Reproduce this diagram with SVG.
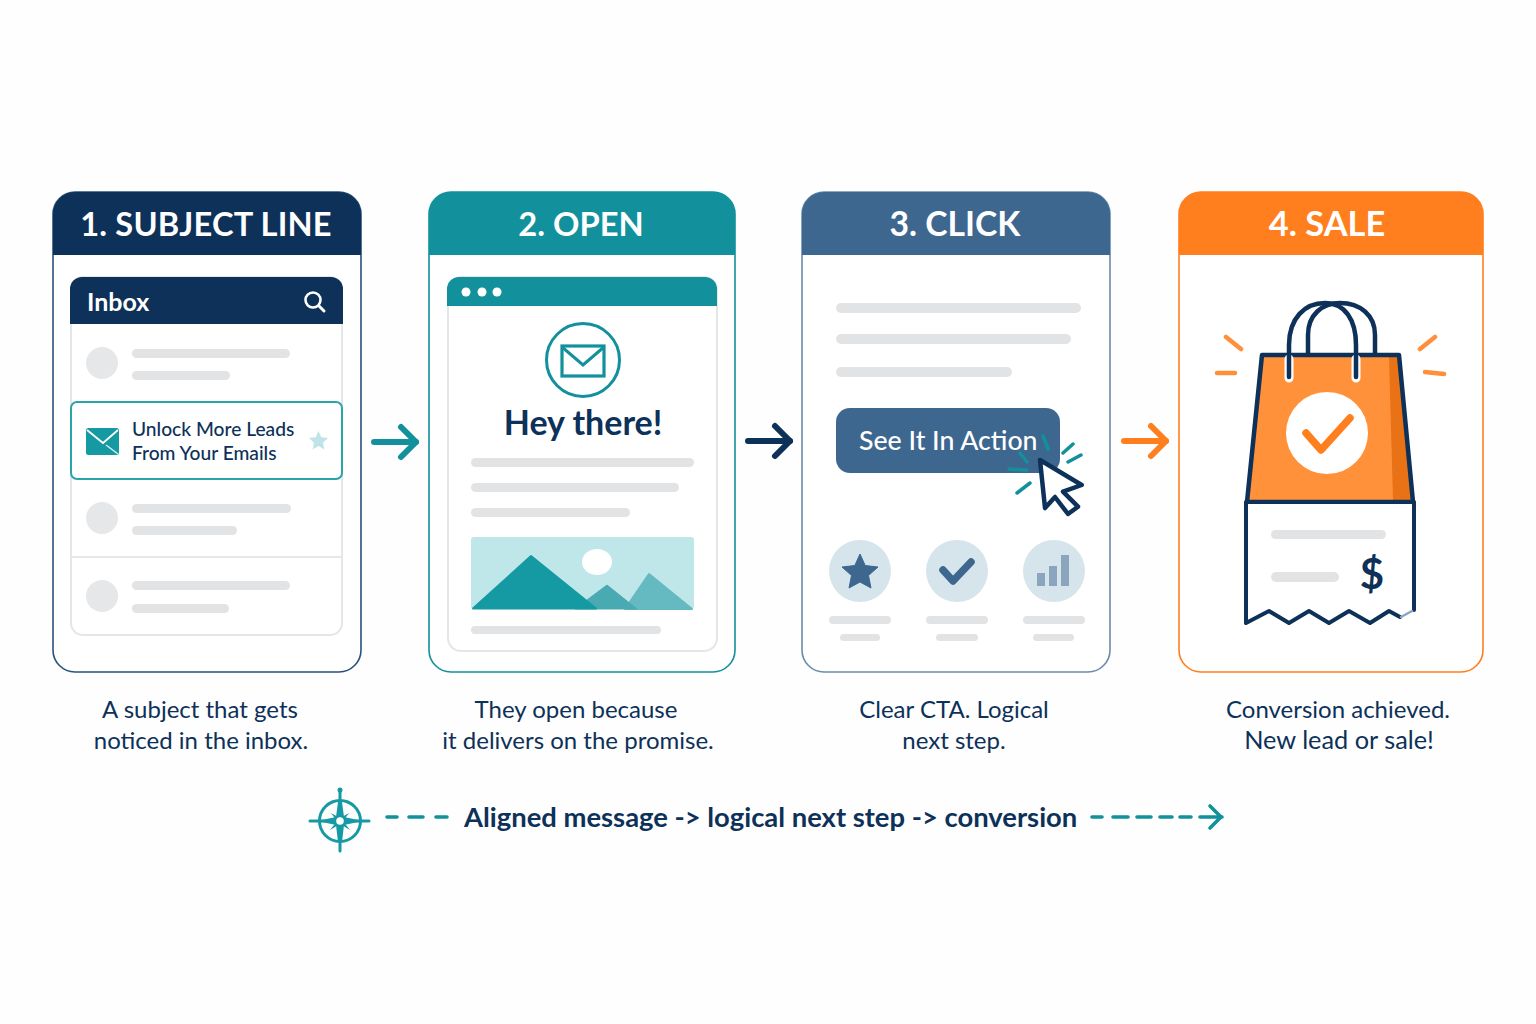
<svg xmlns="http://www.w3.org/2000/svg" width="1536" height="1024" viewBox="0 0 1536 1024">
<style>
text{font-family:"Lato","Noto Sans","Liberation Sans",sans-serif;fill:#0d3158}
.hd{font-size:32.7px;font-weight:700;fill:#fff;text-anchor:middle}
.cap{font-size:24px;text-anchor:middle}
.bar{fill:#e2e3e4}
.card{fill:#fff;stroke-width:1.6}
.dot{fill:#e6e7e8}
.ln{fill:none;stroke-linecap:round;stroke-linejoin:round}
.tk{stroke:#12919c;stroke-width:3.5;stroke-linecap:round;fill:none}
.rr{stroke:#ff8f3a;stroke-width:4.5;stroke-linecap:round;fill:none}
.av{fill:#d6e4eb}
</style>
<defs>
<marker id="hT" markerUnits="userSpaceOnUse" markerWidth="30" markerHeight="40" refX="22" refY="20" orient="auto"><path d="M7 5L22 20L7 35" fill="none" stroke="#12919c" stroke-width="6" stroke-linecap="round" stroke-linejoin="round"/></marker>
<marker id="hN" markerUnits="userSpaceOnUse" markerWidth="30" markerHeight="40" refX="22" refY="20" orient="auto"><path d="M7 5L22 20L7 35" fill="none" stroke="#0d3158" stroke-width="6" stroke-linecap="round" stroke-linejoin="round"/></marker>
<marker id="hO" markerUnits="userSpaceOnUse" markerWidth="30" markerHeight="40" refX="22" refY="20" orient="auto"><path d="M7 5L22 20L7 35" fill="none" stroke="#ff7f1e" stroke-width="6" stroke-linecap="round" stroke-linejoin="round"/></marker>
<marker id="hS" markerUnits="userSpaceOnUse" markerWidth="24" markerHeight="32" refX="18" refY="16" orient="auto"><path d="M6 5L17 16L6 27" fill="none" stroke="#12919c" stroke-width="3.6" stroke-linecap="round" stroke-linejoin="round"/></marker>
</defs>
<rect width="1536" height="1024" fill="#fefefe"/>

<g id="node-subject-line">
<rect class="card" x="53" y="192" width="308" height="480" rx="22" stroke="#2a5279"/>
<path d="M53 255V214a22 22 0 0 1 22-22H339a22 22 0 0 1 22 22V255Z" fill="#0d3158"/>
<text class="hd" x="206" y="236" style="font-size:32.6px;letter-spacing:.2px">1. SUBJECT LINE</text>
<rect x="71" y="277" width="271" height="358" rx="12" fill="#fff" stroke="#e4e6e8" stroke-width="2"/>
<path d="M70 324V289a12 12 0 0 1 12-12H331a12 12 0 0 1 12 12V324Z" fill="#0d3158"/>
<text x="87" y="311" font-size="25" font-weight="700" style="fill:#fff">Inbox</text>
<circle cx="313" cy="300" r="7.5" fill="none" stroke="#fff" stroke-width="2.6"/>
<path d="M319 306L324 311" stroke="#fff" stroke-width="3" stroke-linecap="round"/>
<circle class="dot" cx="102" cy="363" r="16"/>
<rect class="bar" x="132" y="349" width="158" height="9" rx="4.5"/>
<rect class="bar" x="132" y="371" width="98" height="9" rx="4.5"/>
<rect x="71" y="402" width="271" height="77" rx="6" fill="#fff" stroke="#2ba3ab" stroke-width="2"/>
<rect x="86" y="428" width="33" height="27" rx="2.5" fill="#159aa3"/>
<path d="M87 430L103 443L118 430" fill="none" stroke="#fff" stroke-width="1.8"/>
<path d="M106 445L118 454" stroke="#d7eef0" stroke-width="1.5"/>
<text x="132" y="436" font-size="19.2" font-weight="500">Unlock More Leads</text>
<text x="132" y="460" font-size="19.2" font-weight="500">From Your Emails</text>
<path d="M318.500 431L321.300 437.200L328 438L323 442.700L324.400 449.500L318.500 446L312.600 449.500L314 442.700L309 438L315.700 437.200Z" fill="#bfe3e7"/>
<circle class="dot" cx="102" cy="518" r="16"/>
<rect class="bar" x="132" y="504" width="159" height="9" rx="4.5"/>
<rect class="bar" x="132" y="526" width="105" height="9" rx="4.500"/>
<path d="M71 557H342" stroke="#e6e7e8" stroke-width="2"/>
<circle class="dot" cx="102" cy="596" r="16"/>
<rect class="bar" x="132" y="581" width="158" height="9" rx="4.5"/>
<rect class="bar" x="132" y="604" width="97" height="9" rx="4.5"/>
<text class="cap" x="200" y="717.500">A subject that gets</text>
<text class="cap" x="201" y="748.500">noticed in the inbox.</text>
</g>

<g id="node-open">
<rect class="card" x="429" y="192" width="306" height="480" rx="22" stroke="#12919c"/>
<path d="M429 255V214a22 22 0 0 1 22-22H713a22 22 0 0 1 22 22V255Z" fill="#12919c"/>
<text class="hd" x="581" y="236">2. OPEN</text>
<rect x="448" y="277" width="269" height="374" rx="13" fill="#fff" stroke="#e4e6e8" stroke-width="2"/>
<path d="M447 306V289a12 12 0 0 1 12-12H705a12 12 0 0 1 12 12V306Z" fill="#12919c"/>
<circle cx="466" cy="292" r="4.500" fill="#fff"/><circle cx="482" cy="292" r="4.500" fill="#fff"/><circle cx="497" cy="292" r="4.500" fill="#fff"/>
<circle cx="583" cy="360" r="36.500" fill="none" stroke="#12919c" stroke-width="3"/>
<rect x="562" y="346" width="42" height="30" fill="none" stroke="#12919c" stroke-width="3.200"/>
<path d="M562 347L583 365L604 347" fill="none" stroke="#12919c" stroke-width="3"/>
<text x="583" y="435" font-size="34" font-weight="700" text-anchor="middle">Hey there!</text>
<rect class="bar" x="471" y="458" width="223" height="9" rx="4.500"/>
<rect class="bar" x="471" y="483" width="208" height="9" rx="4.500"/>
<rect class="bar" x="471" y="508" width="159" height="9" rx="4.500"/>
<rect x="471" y="537" width="223" height="72" rx="3" fill="#bfe6e9"/>
<ellipse cx="597" cy="562" rx="15" ry="13" fill="#fff"/>
<path d="M625 609L649 574L692 609Z" fill="#65bac2" stroke="#65bac2" stroke-linejoin="round" stroke-width="2"/>
<path d="M575 609L607 585L637 609Z" fill="#49aab2" stroke="#49aab2" stroke-linejoin="round" stroke-width="1"/>
<path d="M473 608.500L531 556L596 608.500Z" fill="#159aa3" stroke="#159aa3" stroke-linejoin="round" stroke-width="2"/>
<rect class="bar" x="471" y="626" width="190" height="8" rx="4"/>
<text class="cap" x="576" y="717.500">They open because</text>
<text class="cap" x="578" y="748.500">it delivers on the promise.</text>
</g>

<g id="node-click">
<rect class="card" x="802" y="192" width="308" height="480" rx="22" stroke="#6a8cab"/>
<path d="M802 255V214a22 22 0 0 1 22-22H1088a22 22 0 0 1 22 22V255Z" fill="#3e678f"/>
<text class="hd" x="955" y="236" style="font-size:33.7px">3. CLICK</text>
<rect class="bar" x="836" y="303" width="245" height="10" rx="5"/>
<rect class="bar" x="836" y="334" width="235" height="10" rx="5"/>
<rect class="bar" x="836" y="367" width="176" height="10" rx="5"/>
<rect x="836" y="408" width="224" height="65" rx="14" fill="#3e678f"/>
<text x="859" y="450" font-size="26.700" font-weight="500" style="fill:#fff">See It In Action</text>
<path class="tk" d="M1063 453L1073 444M1068 462L1081 455M1017 493L1030 483M1043 436L1048 449M1020 453L1027 462M1009 469L1027 470"/>
<path d="M1040 460L1081.700 485L1063 491.700L1078 506.700L1068 514L1055 497L1045 508Z" fill="#fff" stroke="#0d3158" stroke-width="4.500" stroke-linejoin="round"/>
<circle class="av" cx="860" cy="571" r="31"/>
<path d="M860 554L865.200 565.500L878 567L868.500 575.500L871 588L860 582L849 588L851.500 575.500L842 567L854.800 565.500Z" fill="#3e678f" stroke="#3e678f" stroke-width="1" stroke-linejoin="round"/>
<circle class="av" cx="957" cy="571" r="31"/>
<path class="ln" d="M943 570L953 581L971 562" stroke="#3e678f" stroke-width="7.500"/>
<circle class="av" cx="1054" cy="571" r="31"/>
<rect x="1037" y="573" width="8" height="13" fill="#8aa5bd"/>
<rect x="1049" y="566" width="8" height="20" fill="#8aa5bd"/>
<rect x="1061" y="555" width="8" height="31" fill="#8aa5bd"/>
<rect class="bar" x="829" y="616" width="62" height="8" rx="4"/>
<rect class="bar" x="840" y="634" width="40" height="7" rx="3.500"/>
<rect class="bar" x="926" y="616" width="62" height="8" rx="4"/>
<rect class="bar" x="936" y="634" width="42" height="7" rx="3.500"/>
<rect class="bar" x="1023" y="616" width="62" height="8" rx="4"/>
<rect class="bar" x="1033" y="634" width="41" height="7" rx="3.500"/>
<text class="cap" x="954" y="717.500">Clear CTA. Logical</text>
<text class="cap" x="954" y="748.500">next step.</text>
</g>

<g id="node-sale">
<rect class="card" x="1179" y="192" width="304" height="480" rx="22" stroke="#ff7f1e"/>
<path d="M1179 255V214a22 22 0 0 1 22-22H1461a22 22 0 0 1 22 22V255Z" fill="#ff7f1e"/>
<text class="hd" x="1327" y="236" style="font-size:34.4px">4. SALE</text>
<path class="ln" d="M1308 354V335C1308 315 1322 303 1340 303C1360 303 1375 315 1375 335V354" stroke="#0d3158" stroke-width="4.500"/>
<path d="M1262 355H1399L1413 502H1247Z" fill="#ff913a"/>
<path d="M1389 357H1399L1411 500H1393Z" fill="#e87215"/>
<path class="ln" d="M1262 355H1399L1413 502H1247Z" stroke="#0d3158" stroke-width="4.500"/>
<path class="ln" d="M1289 359V378M1356 359V378" stroke="#fff" stroke-width="9"/>
<path class="ln" d="M1289 377V345C1289 318 1305 303 1325 303C1345 303 1356 320 1356 345V377" stroke="#0d3158" stroke-width="4.500"/>
<circle cx="1327" cy="433" r="41" fill="#fff"/>
<path class="ln" d="M1306 433L1321 450L1350 418" stroke="#ff7f1e" stroke-width="7.500"/>
<path class="rr" d="M1226 337L1241 349M1217 373L1235 373M1435 337L1420 349M1425 372L1444 374"/>
<path d="M1246 502H1414V610L1400 617L1389 611L1370 623L1349 611L1329 623L1309 611L1289 623L1269 611L1246 623Z" fill="#fff"/>
<path class="ln" d="M1400 617L1389 611L1370 623L1349 611L1329 623L1309 611L1289 623L1269 611L1246 623V502H1414V610" stroke="#0d3158" stroke-width="4"/>
<path class="ln" d="M1401 617L1412 611" stroke="#8aa5bd" stroke-width="2.500"/>
<rect class="bar" x="1271" y="530" width="115" height="9" rx="4.500"/>
<rect class="bar" x="1271" y="572" width="68" height="10" rx="5"/>
<text x="1372" y="589" font-size="42" font-weight="700" text-anchor="middle">$</text>
<text class="cap" x="1338" y="717.500">Conversion achieved.</text>
<text class="cap" x="1339" y="748.500" style="font-size:25.3px">New lead or sale!</text>
</g>

<g id="connectors" fill="none" stroke-linecap="round">
<path d="M374 442H416" stroke="#12919c" stroke-width="6" marker-end="url(#hT)"/>
<path d="M748 441H790" stroke="#0d3158" stroke-width="6" marker-end="url(#hN)"/>
<path d="M1124 441H1166" stroke="#ff7f1e" stroke-width="6" marker-end="url(#hO)"/>
<path d="M387 817H397M409 817H423M436 817H447" stroke="#12919c" stroke-width="3.600"/>
<path d="M1092 817H1102M1113 817H1128M1137 817H1151M1160 817H1172M1180 817H1191" stroke="#12919c" stroke-width="3.600"/>
<path d="M1200 817H1222" stroke="#12919c" stroke-width="3.600" marker-end="url(#hS)"/>
</g>

<g id="node-compass">
<circle cx="340" cy="821" r="20.500" fill="none" stroke="#159aa3" stroke-width="3"/>
<path d="M310 821H369M340 791V851" stroke="#159aa3" stroke-width="3" stroke-linecap="round"/>
<circle cx="340" cy="790" r="2.500" fill="#159aa3"/>
<path d="M338 802H342L344 817L358 820V822L344 825L342 842H338L336 825L322 822V820L336 817Z" fill="#159aa3"/>
<path d="M331 813L340 818L349 813L343 821L350 830L340 824L330 830L337 821Z" fill="#159aa3"/>
<circle cx="340" cy="821" r="3.800" fill="#fff"/>
<text x="464" y="826.500" font-size="27.400" font-weight="700">Aligned message -&gt; logical next step -&gt; conversion</text>
</g>
</svg>
